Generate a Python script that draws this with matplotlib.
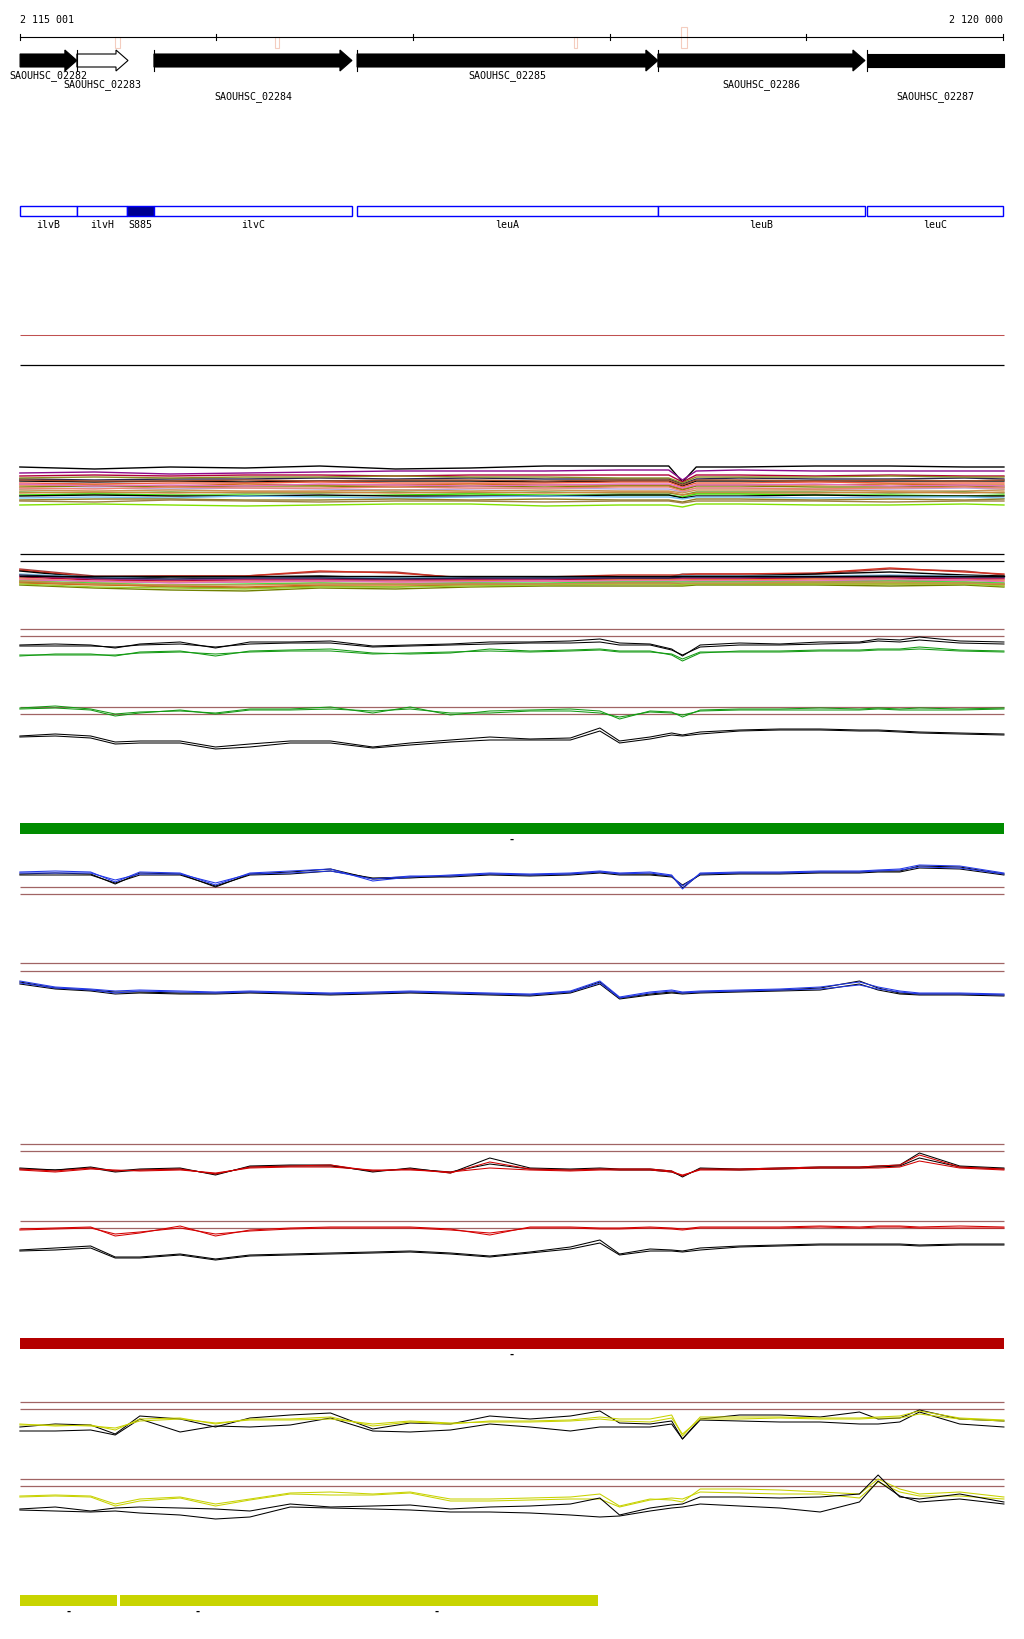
import numpy as np
import matplotlib.pyplot as plt
from matplotlib.patches import Polygon, Rectangle

# --- view / ruler ---
VIEW_START = 2114899
VIEW_END = 2120107
TRACK_START = 2115001
TRACK_END = 2120005
RULER_TICKS = [2115001, 2116000, 2117000, 2118000, 2119000, 2120000]
RULER_LABELS = ["2 115 001", "2 120 000"]

# --- genes (start, end, name) ---
gene_names = ["SAOUHSC_02282", "SAOUHSC_02283", "SAOUHSC_02284",
              "SAOUHSC_02285", "SAOUHSC_02286", "SAOUHSC_02287"]
gene_starts = [2113600, 2115290, 2115682, 2116715, 2118245, 2119308]
gene_ends = [2115290, 2115550, 2116689, 2118245, 2119298, 2120720]
gene_filled = [True, False, True, True, True, True]

# --- features ---
feat_names = ["ilvB", "ilvH", "S885", "ilvC", "leuA", "leuB", "leuC"]
feat_starts = [2113600, 2115290, 2115545, 2115682, 2116715, 2118245, 2119308]
feat_ends = [2115290, 2115545, 2115682, 2116689, 2118245, 2119298, 2120720]
feat_filled = [False, False, True, False, False, False, False]

# small marks under the ruler (start, end, tall)
mark_starts = [2115482, 2116297, 2117818, 2118362]
mark_ends = [2115507, 2116317, 2117833, 2118393]
mark_tall = [False, False, False, True]

# --- bars (segments) ---
green_bar = [(2115001, 2120005)]
red_bar = [(2115001, 2120005)]
yellow_bar = [(2115001, 2115494), (2115509, 2116293), (2116293, 2117940)]

# --- profile sampling positions (bp) ---
POS = [2115000, 2115180, 2115360, 2115485, 2115610, 2115815, 2115995, 2116170,
       2116375, 2116580, 2116795, 2116985, 2117190, 2117390, 2117595, 2117800,
       2117950, 2118050, 2118205, 2118315, 2118370, 2118460, 2118660, 2118865,
       2119070, 2119270, 2119365, 2119475, 2119575, 2119780, 2120005]
COARSE = [2115000, 2115380, 2115765, 2116145, 2116525, 2116910, 2117290, 2117670,
          2118050, 2118300, 2118370, 2118440, 2118660, 2119045, 2119425, 2119805, 2120005]

# green group (depth below track top, px-like units)
g_k1 = [26, 25, 26, 29, 25, 23, 29, 23, 23, 22, 27, 26, 25, 23, 23, 22, 20, 24, 25, 30, 37, 26, 24, 25, 23, 23, 20, 21, 18, 22, 23]
g_k2 = [27, 27, 27, 28, 26, 25, 28, 25, 24, 24, 28, 27, 26, 25, 24, 24, 23, 26, 26, 31, 36, 28, 26, 26, 25, 24, 22, 23, 21, 24, 25]
g_g1 = [37, 35, 35, 37, 33, 32, 37, 32, 31, 30, 34, 35, 34, 30, 32, 31, 30, 32, 32, 36, 42, 34, 32, 32, 31, 31, 30, 30, 28, 31, 32]
g_g2 = [36, 36, 36, 36, 34, 33, 35, 33, 32, 32, 35, 34, 33, 32, 33, 32, 31, 33, 33, 35, 40, 33, 33, 33, 32, 32, 31, 31, 30, 32, 33]
g_g3 = [89, 87, 90, 95, 93, 92, 94, 90, 90, 88, 94, 88, 96, 92, 91, 90, 92, 100, 92, 93, 98, 91, 90, 90, 89, 90, 89, 90, 89, 90, 89]
g_g4 = [90, 89, 91, 97, 94, 91, 95, 91, 91, 90, 92, 90, 94, 94, 92, 92, 94, 98, 93, 94, 96, 92, 91, 91, 91, 91, 90, 91, 91, 91, 90]
g_k3 = [117, 115, 117, 123, 122, 122, 128, 125, 122, 122, 128, 124, 121, 118, 120, 119, 109, 122, 118, 114, 116, 113, 111, 110, 110, 111, 111, 112, 113, 114, 115]
g_k4 = [118, 117, 119, 125, 124, 124, 130, 128, 124, 124, 129, 126, 123, 121, 121, 121, 112, 124, 120, 116, 117, 115, 112, 111, 111, 112, 112, 113, 114, 115, 116]

# blue group
b_b1 = [13, 12, 13, 23, 13, 14, 26, 14, 12, 10, 22, 18, 16, 14, 15, 14, 12, 14, 13, 16, 30, 14, 13, 13, 12, 12, 11, 10, 6, 7, 14]
b_b2 = [14, 14, 14, 21, 15, 15, 24, 15, 14, 12, 20, 17, 17, 15, 16, 15, 13, 15, 14, 17, 27, 15, 14, 14, 13, 13, 12, 11, 8, 9, 15]
b_k1 = [15, 14, 15, 25, 14, 15, 28, 15, 13, 10, 20, 19, 17, 15, 16, 15, 13, 15, 15, 17, 29, 15, 14, 14, 13, 13, 12, 12, 7, 8, 15]
b_k2 = [16, 16, 16, 24, 16, 16, 27, 16, 15, 12, 19, 18, 18, 16, 17, 16, 14, 16, 16, 18, 26, 16, 15, 15, 14, 14, 13, 13, 9, 10, 16]
b_b3 = [122, 128, 130, 132, 131, 132, 133, 132, 133, 134, 133, 132, 133, 134, 135, 132, 122, 138, 133, 131, 133, 132, 131, 130, 128, 123, 128, 132, 134, 134, 135]
b_b4 = [124, 129, 131, 134, 132, 133, 134, 133, 134, 135, 134, 133, 134, 135, 136, 133, 124, 139, 134, 132, 134, 133, 132, 131, 130, 126, 130, 133, 135, 135, 136]
b_k3 = [123, 129, 131, 133, 133, 134, 134, 133, 134, 135, 134, 133, 134, 135, 136, 133, 123, 139, 135, 133, 134, 133, 132, 131, 129, 122, 129, 134, 135, 135, 136]
b_k4 = [125, 130, 132, 135, 134, 135, 135, 134, 135, 136, 135, 134, 135, 136, 137, 134, 125, 140, 136, 134, 135, 134, 133, 132, 131, 125, 131, 135, 136, 136, 137]

# red group
r_r1 = [35, 37, 34, 37, 36, 35, 40, 33, 32, 31, 37, 35, 39, 28, 35, 36, 35, 35, 35, 37, 42, 35, 35, 34, 33, 33, 32, 31, 21, 33, 35]
r_r2 = [36, 38, 35, 36, 37, 36, 39, 34, 33, 33, 36, 36, 38, 34, 36, 37, 36, 36, 36, 38, 41, 36, 36, 35, 34, 34, 34, 33, 27, 34, 36]
r_k1 = [34, 36, 33, 37, 35, 34, 41, 32, 31, 31, 38, 34, 39, 24, 34, 35, 34, 35, 35, 37, 43, 34, 35, 34, 33, 33, 32, 31, 19, 32, 34]
r_k2 = [35, 36, 34, 38, 36, 35, 40, 33, 32, 32, 37, 35, 38, 30, 35, 36, 35, 36, 36, 38, 42, 35, 36, 35, 34, 34, 33, 32, 24, 33, 35]
r_r3 = [95, 94, 93, 102, 99, 92, 102, 96, 94, 93, 93, 93, 95, 101, 93, 93, 94, 94, 93, 94, 95, 93, 93, 93, 92, 93, 92, 92, 93, 92, 93]
r_r4 = [96, 95, 94, 100, 98, 94, 100, 97, 95, 94, 94, 94, 96, 99, 94, 94, 95, 95, 94, 95, 96, 94, 94, 94, 93, 94, 93, 93, 94, 94, 94]
r_k3 = [116, 114, 112, 123, 123, 120, 125, 121, 120, 119, 118, 117, 119, 122, 118, 113, 106, 120, 115, 116, 117, 114, 112, 111, 110, 110, 110, 110, 111, 110, 110]
r_k4 = [117, 116, 114, 124, 124, 121, 126, 122, 121, 120, 119, 118, 120, 123, 119, 115, 109, 121, 117, 117, 118, 116, 113, 112, 111, 111, 111, 111, 112, 111, 111]

# yellow group
y_y1 = [30, 32, 31, 36, 25, 24, 30, 25, 25, 23, 32, 28, 30, 27, 27, 26, 23, 25, 25, 21, 42, 23, 23, 23, 24, 24, 23, 22, 17, 24, 26]
y_y2 = [31, 31, 32, 34, 27, 25, 29, 26, 26, 25, 30, 27, 29, 28, 28, 27, 25, 27, 28, 24, 40, 25, 25, 24, 25, 25, 24, 24, 20, 25, 27]
y_k1 = [33, 30, 31, 40, 22, 25, 33, 24, 21, 19, 35, 29, 30, 22, 25, 22, 17, 29, 30, 27, 45, 25, 21, 21, 23, 18, 25, 24, 16, 25, 27]
y_k2 = [37, 37, 36, 41, 25, 38, 32, 33, 31, 24, 37, 38, 36, 30, 33, 37, 33, 33, 33, 30, 45, 26, 27, 28, 28, 30, 30, 28, 18, 30, 33]
y_y3 = [102, 101, 102, 110, 105, 103, 110, 105, 99, 98, 100, 98, 105, 105, 104, 103, 100, 112, 105, 106, 108, 95, 95, 96, 98, 100, 85, 95, 100, 98, 103]
y_y4 = [103, 102, 103, 112, 107, 104, 112, 106, 100, 101, 101, 99, 107, 107, 106, 105, 105, 113, 106, 104, 105, 98, 99, 100, 100, 104, 88, 98, 102, 102, 105]
y_k3 = [115, 113, 117, 114, 113, 114, 115, 117, 110, 113, 112, 111, 115, 113, 112, 110, 104, 121, 114, 111, 110, 103, 103, 104, 103, 100, 81, 103, 105, 100, 108]
y_k4 = [116, 117, 118, 117, 119, 121, 125, 123, 113, 114, 115, 116, 118, 118, 119, 121, 123, 122, 117, 114, 113, 110, 112, 114, 118, 108, 87, 102, 108, 105, 110]

# dense multi-sample track A (colour, depth per COARSE position)
multi_a_colors = ["#000000", "#8b0a8b", "#b0003a", "#24244e", "#000000", "#8c8c20",
                  "#a05030", "#f05a3c", "#d2691e", "#808000", "#e070c0", "#b4a0d8",
                  "#f08070", "#c89050", "#6b8e23", "#cd853f", "#40e000", "#000000",
                  "#70c0f0", "#8c7a20", "#a08040", "#80e000"]
multi_a = [
    [13, 15, 13, 14, 12, 15, 14, 12, 12, 12, 28, 13, 13, 12, 12, 13, 13],
    [19, 18, 20, 19, 18, 17, 17, 17, 16, 16, 26, 17, 16, 17, 17, 17, 17],
    [22, 21, 22, 21, 21, 22, 21, 21, 21, 21, 28, 21, 21, 22, 21, 22, 22],
    [25, 26, 25, 25, 24, 25, 24, 25, 25, 25, 30, 25, 24, 25, 25, 24, 25],
    [27, 28, 27, 28, 27, 27, 27, 28, 27, 27, 32, 27, 27, 27, 27, 27, 27],
    [24, 23, 24, 23, 23, 22, 23, 23, 24, 24, 29, 23, 23, 23, 22, 23, 23],
    [26, 27, 27, 26, 27, 26, 26, 27, 26, 26, 31, 26, 26, 27, 26, 27, 26],
    [29, 30, 29, 29, 28, 29, 29, 29, 28, 28, 33, 29, 29, 28, 29, 29, 29],
    [31, 31, 32, 30, 31, 31, 30, 31, 31, 31, 35, 31, 31, 31, 30, 31, 31],
    [33, 32, 33, 32, 32, 33, 32, 33, 32, 32, 36, 32, 32, 33, 33, 32, 33],
    [30, 32, 31, 32, 30, 31, 32, 31, 30, 30, 34, 31, 31, 30, 32, 31, 32],
    [35, 34, 35, 34, 35, 36, 35, 34, 35, 35, 38, 34, 34, 35, 35, 34, 35],
    [34, 35, 33, 34, 34, 33, 34, 34, 33, 33, 37, 34, 34, 35, 34, 33, 34],
    [36, 37, 36, 37, 37, 36, 37, 36, 37, 37, 39, 36, 36, 36, 37, 37, 36],
    [38, 39, 38, 39, 39, 38, 39, 38, 39, 39, 41, 38, 38, 38, 39, 38, 39],
    [39, 38, 39, 38, 38, 39, 38, 39, 38, 38, 41, 39, 39, 39, 38, 39, 38],
    [41, 40, 41, 41, 42, 41, 40, 41, 41, 41, 43, 40, 40, 41, 41, 42, 41],
    [42, 41, 42, 42, 41, 42, 42, 42, 41, 41, 44, 42, 42, 41, 42, 42, 42],
    [44, 43, 44, 42, 43, 44, 43, 42, 43, 43, 45, 43, 43, 44, 43, 43, 44],
    [46, 45, 45, 46, 46, 45, 46, 45, 46, 46, 48, 45, 45, 46, 45, 46, 45],
    [47, 48, 46, 47, 48, 47, 47, 48, 47, 47, 49, 47, 47, 47, 48, 47, 47],
    [51, 50, 51, 52, 51, 50, 50, 52, 51, 51, 53, 50, 50, 51, 51, 50, 51],
]

# dense multi-sample track B
multi_b_colors = ["#a04040", "#d03020", "#000000", "#80c0e0", "#a040a0", "#b0003a",
                  "#f08030", "#f08070", "#e070c0", "#40e040", "#8c8c20", "#d2691e",
                  "#708000", "#9acd32", "#c89050", "#24244e", "#000000"]
multi_b = [
    [25, 32, 32, 32, 28, 28, 35, 33, 33, 33, 30, 30, 30, 30, 25, 27, 31],
    [26, 33, 32, 32, 27, 29, 34, 33, 31, 31, 31, 30, 30, 29, 24, 28, 30],
    [27, 34, 33, 33, 32, 34, 34, 34, 33, 33, 32, 32, 32, 30, 28, 31, 32],
    [30, 33, 35, 34, 33, 34, 33, 34, 33, 33, 32, 32, 32, 32, 31, 32, 33],
    [32, 35, 36, 35, 35, 36, 35, 35, 34, 34, 34, 34, 34, 33, 33, 34, 34],
    [33, 36, 37, 36, 36, 36, 36, 36, 35, 35, 35, 35, 35, 34, 34, 35, 35],
    [35, 37, 38, 38, 37, 38, 37, 37, 36, 36, 36, 36, 36, 35, 36, 36, 37],
    [34, 38, 38, 37, 38, 37, 38, 37, 37, 37, 36, 37, 37, 36, 35, 37, 36],
    [36, 37, 39, 38, 37, 38, 38, 37, 37, 37, 37, 37, 37, 37, 36, 36, 38],
    [37, 39, 41, 40, 39, 40, 39, 39, 38, 38, 38, 38, 38, 38, 37, 38, 39],
    [38, 40, 43, 44, 42, 43, 40, 40, 39, 39, 40, 40, 40, 39, 39, 39, 40],
    [39, 41, 42, 43, 41, 41, 41, 41, 40, 40, 41, 40, 40, 40, 40, 40, 41],
    [41, 44, 46, 47, 44, 45, 43, 42, 42, 42, 42, 41, 41, 41, 42, 41, 43],
    [40, 43, 44, 45, 43, 43, 42, 41, 40, 40, 41, 40, 40, 40, 40, 40, 42],
    [37, 40, 41, 41, 40, 40, 40, 40, 39, 39, 39, 39, 39, 38, 38, 39, 40],
    [31, 34, 35, 34, 34, 35, 34, 34, 34, 34, 33, 33, 33, 33, 32, 33, 33],
    [32, 32, 32, 32, 32, 32, 32, 32, 32, 32, 32, 32, 32, 32, 32, 32, 32],
]

W, H = 1024, 1640
BROWN = "#a06464"
FONT = dict(family="DejaVu Sans Mono", fontsize=7.2, color="black")
LW = 0.75

fig = plt.figure(figsize=(W / 100, H / 100), dpi=100)


def band(top, height):
    ax = fig.add_axes([0, 1 - (top + height) / H, 1, height / H])
    ax.set_xlim(VIEW_START, VIEW_END)
    ax.set_ylim(height, 0)
    ax.axis("off")
    return ax


px = (VIEW_END - VIEW_START) / W  # bp per pixel

# ---------------- ruler, genes, features ----------------
ann = band(0, 240)
ann.plot([RULER_TICKS[0], RULER_TICKS[-1]], [38, 38], color="black", lw=0.8)
for t in RULER_TICKS:
    ann.plot([t, t], [35, 41], color="black", lw=0.8)
ann.text(RULER_TICKS[0], 20, RULER_LABELS[0], ha="left", va="center", **FONT)
ann.text(RULER_TICKS[-1], 20, RULER_LABELS[1], ha="right", va="center", **FONT)

for s, e, tall in zip(mark_starts, mark_ends, mark_tall):
    top = 28 if tall else 38
    ann.add_patch(Rectangle((s, top), e - s, 49 - top, fill=False,
                            edgecolor="#f4cdbf", lw=0.8))

head = 12 * px
label_rows = [76, 85, 97]
for i, (name, s, e, filled) in enumerate(zip(gene_names, gene_starts, gene_ends, gene_filled)):
    s0 = max(s, TRACK_START)
    e0 = min(e, TRACK_END)
    if e <= TRACK_END:
        verts = [(s0, 55), (e0 - head, 55), (e0 - head, 51), (e0, 61.5),
                 (e0 - head, 72), (e0 - head, 68), (s0, 68)]
    else:
        verts = [(s0, 55), (e0, 55), (e0, 68), (s0, 68)]
    ann.add_patch(Polygon(verts, closed=True, facecolor="black" if filled else "white",
                          edgecolor="black", lw=0.8))
    if s >= TRACK_START:
        ann.plot([s, s], [51, 72], color="black", lw=0.8)
    ann.text((s0 + e0) / 2, label_rows[i % 3], name, ha="center", va="center", **FONT)

for name, s, e, filled in zip(feat_names, feat_starts, feat_ends, feat_filled):
    s0 = max(s, TRACK_START)
    e0 = min(e, 2120000)
    ann.add_patch(Rectangle((s0, 207), e0 - s0, 10, facecolor="#000090" if filled else "white",
                            edgecolor="#0000ff", lw=1.0))
    ann.text((s0 + e0) / 2, 224.5, name, ha="center", va="center", **FONT)

# ---------------- empty threshold track ----------------
t0 = band(320, 60)
t0.hlines([16], TRACK_START, TRACK_END, color="#c05050", lw=LW)
t0.hlines([46], TRACK_START, TRACK_END, color="black", lw=0.9)

# ---------------- dense tracks ----------------
ta = band(455, 60)
for c, vals in zip(multi_a_colors, multi_a):
    ta.plot(COARSE, vals, color=c, lw=1.0)

tb = band(545, 60)
tb.hlines([10, 17], TRACK_START, TRACK_END, color="black", lw=0.9)
for c, vals in zip(multi_b_colors, multi_b):
    tb.plot(COARSE, vals, color=c, lw=1.0)


def profile_group(top, height, hl, lines):
    ax = band(top, height)
    ax.hlines(hl, TRACK_START, TRACK_END, color=BROWN, lw=0.9)
    for vals, c in lines:
        ax.plot(POS, vals, color=c, lw=LW)
    return ax


GREEN = "#139a13"
BLUE = "#2238e8"
RED = "#d40000"
YEL = "#c8d200"

profile_group(620, 140, [10, 17, 88, 95],
              [(g_k1, "black"), (g_k2, "black"), (g_g1, GREEN), (g_g2, GREEN),
               (g_g3, GREEN), (g_g4, GREEN), (g_k3, "black"), (g_k4, "black")])
profile_group(860, 150, [28, 35, 104, 112],
              [(b_k1, "black"), (b_k2, "black"), (b_b1, BLUE), (b_b2, BLUE),
               (b_k3, "black"), (b_k4, "black"), (b_b3, BLUE), (b_b4, BLUE)])
profile_group(1135, 135, [10, 17, 87, 94],
              [(r_k1, "black"), (r_k2, "black"), (r_r1, RED), (r_r2, RED),
               (r_r3, RED), (r_r4, RED), (r_k3, "black"), (r_k4, "black")])
profile_group(1395, 130, [8, 15, 85, 92],
              [(y_k1, "black"), (y_k2, "black"), (y_y1, YEL), (y_y2, YEL),
               (y_y3, YEL), (y_y4, YEL), (y_k3, "black"), (y_k4, "black")])


# ---------------- bars ----------------
def bar_track(top, segs, color):
    ax = band(top, 30)
    for s, e in segs:
        ax.add_patch(Rectangle((s, 0), e - s, 11, facecolor=color, edgecolor="none"))
        ax.text((s + e) / 2, 16, "-", ha="center", va="center", fontweight="bold", **FONT)
    return ax


bar_track(824, green_bar, "#008c00")
bar_track(1339, red_bar, "#b40000")
bar_track(1596, yellow_bar, "#c8d400")

fig.savefig("out.png", dpi=100)
